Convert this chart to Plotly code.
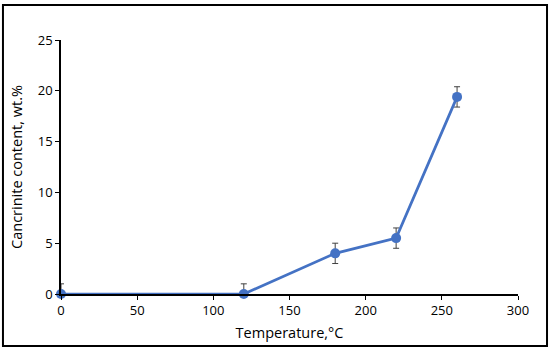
import plotly.graph_objects as go

temperature = [0, 120, 180, 220, 260]
cancrinite = [0, 0, 4.0, 5.5, 19.4]
err_plus = [1, 1, 1, 1, 1]
err_minus = [0, 0, 1, 1, 1]
x_ticks = [0, 50, 100, 150, 200, 250, 300]
y_ticks = [0, 5, 10, 15, 20, 25]

fig = go.Figure()
fig.add_trace(go.Scatter(
    x=temperature, y=cancrinite, mode="lines+markers",
    line=dict(color="#4472C4", width=2.75),
    marker=dict(color="#4472C4", size=10),
    error_y=dict(type="data", array=err_plus, arrayminus=err_minus, symmetric=False,
                 color="#404040", thickness=1, width=3),
    cliponaxis=False, showlegend=False,
))

family = "Open Sans, Liberation Sans, sans-serif"
tick_font = dict(family=family, size=13, color="black")
title_font = dict(family=family, size=14.5, color="black")
fig.update_layout(
    width=550, height=360,
    margin=dict(l=61, r=32, t=40, b=66),
    paper_bgcolor="white", plot_bgcolor="white",
    font=tick_font,
    xaxis=dict(range=[0, 300], tickvals=x_ticks, showgrid=False, zeroline=False,
               showline=True, linecolor="black", linewidth=1.5, automargin=False,
               ticks="outside", ticklen=4, tickcolor="black", tickfont=tick_font,
               title=dict(text="Temperature,°C", standoff=10, font=title_font)),
    yaxis=dict(range=[0, 25], tickvals=y_ticks, showgrid=False, zeroline=False,
               showline=True, linecolor="black", linewidth=1.5, automargin=False,
               ticks="outside", ticklen=4, tickcolor="black", tickfont=tick_font,
               title=dict(text="Cancrinite content, wt.%", standoff=12, font=title_font)),
    shapes=[dict(type="rect", xref="paper", yref="paper",
                 x0=-0.127, x1=1.0635, y0=-0.2047, y1=1.1378,
                 line=dict(color="black", width=2), fillcolor="rgba(0,0,0,0)")],
)
fig.write_html("out.html", config={"displayModeBar": False},
               post_script="document.body.style.margin='0';")
